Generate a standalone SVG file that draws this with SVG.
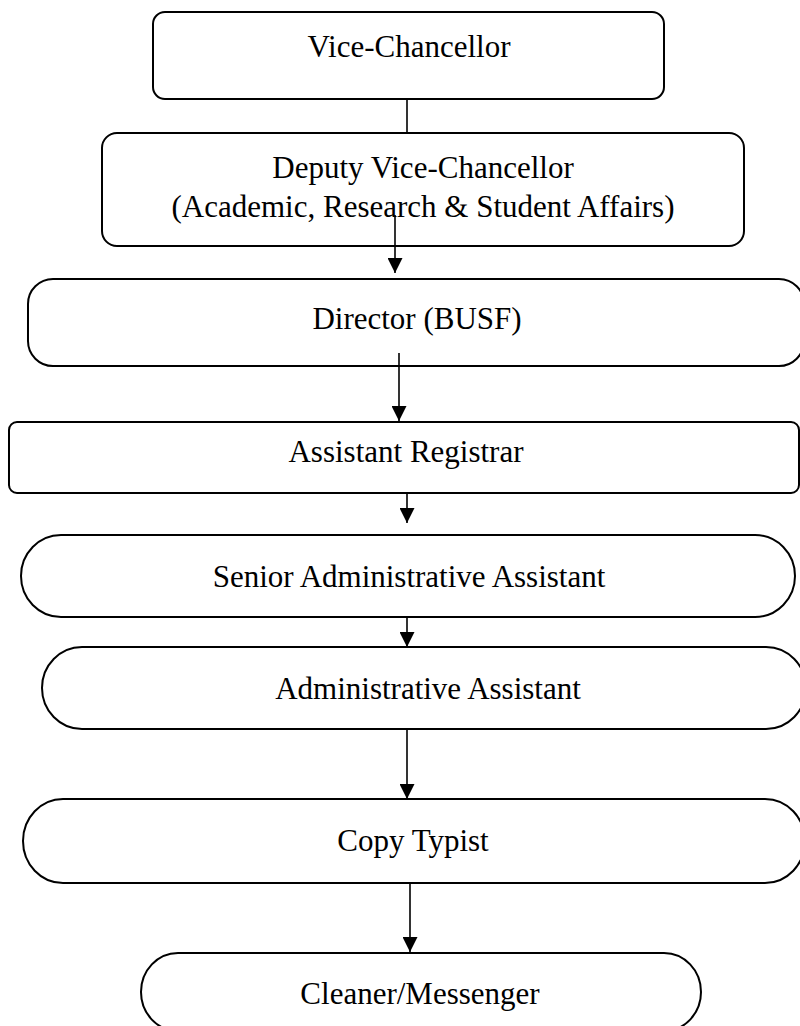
<svg xmlns="http://www.w3.org/2000/svg" width="800" height="1026" viewBox="0 0 800 1026">
<defs>
<style>
.box{fill:#fff;stroke:#000;stroke-width:2}
.lbl{font-family:"Liberation Serif","Times New Roman",serif;font-size:31px;fill:#000;text-anchor:middle}
.con{stroke:#000;stroke-width:1.6;fill:none}
</style>
<marker id="ah" viewBox="0 0 15 15" refX="15" refY="7.5" markerWidth="15" markerHeight="15" markerUnits="userSpaceOnUse" orient="auto">
<path d="M0,0 L15,7.5 L0,15 z" fill="#000"/>
</marker>
</defs>
<rect width="800" height="1026" fill="#fff"/>
<g id="vc"><rect class="box" x="153" y="12" width="511" height="87" rx="12"/><text class="lbl" x="409" y="57">Vice-Chancellor</text></g>
<g id="dvc"><rect class="box" x="102" y="133" width="642" height="113" rx="15"/><text class="lbl" x="423" y="178">Deputy Vice-Chancellor</text><text class="lbl" x="423" y="217">(Academic, Research &amp; Student Affairs)</text></g>
<g id="director"><rect class="box" x="28" y="279" width="776" height="87" rx="25"/><text class="lbl" x="417" y="329">Director (BUSF)</text></g>
<g id="ar"><rect class="box" x="9" y="422" width="790" height="71" rx="8"/><text class="lbl" x="406" y="462">Assistant Registrar</text></g>
<g id="saa"><rect class="box" x="21" y="535" width="774" height="82" rx="40" ry="41"/><text class="lbl" x="409" y="587">Senior Administrative Assistant</text></g>
<g id="aa"><rect class="box" x="42" y="647" width="764" height="82" rx="40" ry="41"/><text class="lbl" x="428" y="699">Administrative Assistant</text></g>
<g id="ct"><rect class="box" x="23" y="799" width="782" height="84" rx="40" ry="42"/><text class="lbl" x="413" y="851">Copy Typist</text></g>
<g id="cleaner"><rect class="box" x="141" y="953" width="560" height="78" rx="37" ry="39"/><text class="lbl" x="420" y="1004">Cleaner/Messenger</text></g>
<g id="connectors">
<line class="con" x1="407" y1="99" x2="407" y2="133"/>
<line class="con" x1="395" y1="215" x2="395" y2="273" marker-end="url(#ah)"/>
<line class="con" x1="399" y1="353" x2="399" y2="421" marker-end="url(#ah)"/>
<line class="con" x1="407" y1="493" x2="407" y2="523" marker-end="url(#ah)"/>
<line class="con" x1="407" y1="617" x2="407" y2="647" marker-end="url(#ah)"/>
<line class="con" x1="407" y1="729" x2="407" y2="799" marker-end="url(#ah)"/>
<line class="con" x1="410" y1="883" x2="410" y2="952" marker-end="url(#ah)"/>
</g>
</svg>
